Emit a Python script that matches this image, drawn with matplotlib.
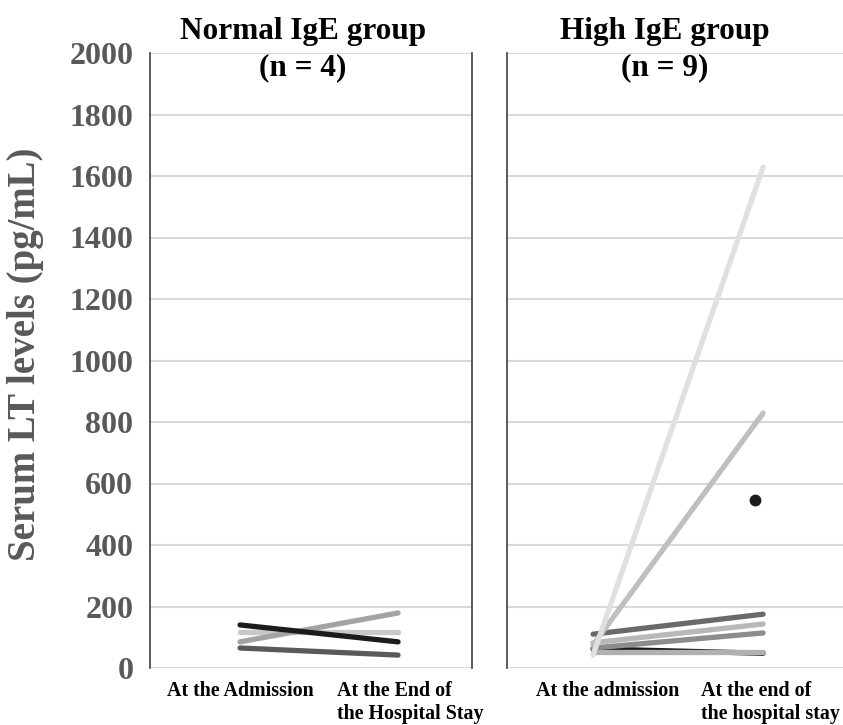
import matplotlib
matplotlib.use("Agg")
import matplotlib.pyplot as plt
from matplotlib.transforms import ScaledTranslation

plt.rcParams['font.family'] = ['Liberation Serif', 'DejaVu Serif']
plt.rcParams['font.weight'] = 'bold'

# Data
normal_labels = ["At the Admission", "At the End of\nthe Hospital Stay"]
high_labels = ["At the admission", "At the end of\nthe hospital stay"]
yticks = [0, 200, 400, 600, 800, 1000, 1200, 1400, 1600, 1800, 2000]

normal_series = [
    [65, 42],
    [117, 117],
    [85, 179],
    [140, 85],
]
normal_colors = ["#5a5a5a", "#c8c8c8", "#a3a3a3", "#1c1c1c"]

high_series = [
    [62, 48],
    [52, 52],
    [65, 114],
    [82, 143],
    [110, 175],
    [75, 829],
    [42, 1629],
]
high_colors = ["#1c1c1c", "#b0b0b0", "#8c8c8c", "#b8b8b8", "#6a6a6a", "#bfbfbf", "#e0e0e0"]
high_dot_value = 545

W, H = 843, 725
fig = plt.figure(figsize=(W / 100, H / 100), dpi=100)

def px_rect(x0, x1, y_top, y_bot):
    return [x0 / W, (H - y_bot) / H, (x1 - x0) / W, (y_bot - y_top) / H]

ax1 = fig.add_axes(px_rect(150, 472, 53, 668))
ax2 = fig.add_axes(px_rect(507, 843, 53, 668))

for ax in (ax1, ax2):
    ax.set_ylim(0, 2000)
    ax.set_yticks(yticks)
    ax.grid(axis='y', color='#d9d9d9', linewidth=1.5)
    ax.set_axisbelow(True)
    ax.tick_params(length=0)
    for s in ('top', 'bottom'):
        ax.spines[s].set_visible(False)
    ax.spines['left'].set_color('#404040')
    ax.spines['left'].set_linewidth(1.2)

ax1.spines['right'].set_color('#404040')
ax1.spines['right'].set_linewidth(1.2)
ax2.spines['right'].set_visible(False)

ax1.set_xlim(-0.57, 1.468)
ax2.set_xlim(-0.506, 1.47)

x = [0, 1]
for vals, c in zip(normal_series, normal_colors):
    ax1.plot(x, vals, color=c, linewidth=3.8, solid_capstyle='round')
for vals, c in zip(high_series, high_colors):
    ax2.plot(x, vals, color=c, linewidth=3.8, solid_capstyle='round')
ax2.plot([0.95], [high_dot_value], 'o', color='#1c1c1c', markersize=7.5)

ax1.set_xticks(x)
ax1.set_xticklabels(normal_labels, fontsize=14.4, fontweight='bold', multialignment='left', linespacing=1.2)
ax2.set_xticks(x)
ax2.set_xticklabels(high_labels, fontsize=14.4, fontweight='bold', multialignment='left', linespacing=1.2)
ax1.tick_params(axis='x', pad=9)
ax2.tick_params(axis='x', pad=9)

def shift_labels(ax, offsets_px):
    for lab, dx in zip(ax.get_xticklabels(), offsets_px):
        lab.set_transform(lab.get_transform() + ScaledTranslation(dx / 100, 0, fig.dpi_scale_trans))

shift_labels(ax1, [0, 12])
shift_labels(ax2, [15, 7])

ax1.set_yticklabels([str(v) for v in yticks], fontsize=23, fontweight='bold', color='#595959')
ax1.tick_params(axis='y', pad=12)
ax2.set_yticklabels([])

ax1.set_ylabel("Serum LT levels (pg/mL)", fontsize=28, fontweight='bold', color='#595959')
ax1.yaxis.set_label_coords(-0.33, 0.51)

ax1.text(0.475, 1.058, "Normal IgE group\n(n = 4)", transform=ax1.transAxes, ha='center', va='top',
         fontsize=22.5, fontweight='bold', linespacing=1.33)
ax2.text(0.47, 1.058, "High IgE group\n(n = 9)", transform=ax2.transAxes, ha='center', va='top',
         fontsize=22.5, fontweight='bold', linespacing=1.33)

fig.savefig("out.png", dpi=100)
